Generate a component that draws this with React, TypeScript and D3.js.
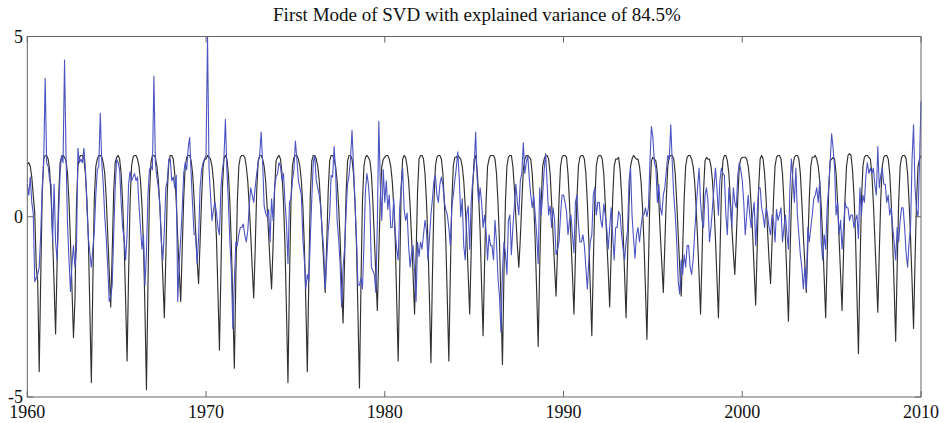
import React from 'react';
import * as d3 from 'd3';

const title = 'First Mode of SVD with explained variance of 84.5%';
const startYear = 1960;
const xTicks = [1960, 1970, 1980, 1990, 2000, 2010];
const yTicks = [-5, 0, 5];

// Black series: one row of 12 monthly values per year, 1960..2009
const blackRows: number[][] = [
  [1.45, 1.5, 1.4, 1.1, 0.6, 0.1, -1.4, -1.8, -4.3, -1.7, 0.6, 1.6],
  [1.7, 1.7, 1.6, 1.3, 0.5, -0.6, -1.9, -3.25, -1.3, 0.5, 1.5, 1.65],
  [1.7, 1.65, 1.55, 1.2, 0.4, -0.7, -2.0, -3.35, -2.3, 0.3, 1.4, 1.65],
  [1.7, 1.7, 1.6, 1.2, 0.5, -0.6, -2.6, -4.6, -1.8, 0.5, 1.4, 1.6],
  [1.7, 1.7, 1.65, 1.5, 1.2, 0.5, -0.5, -1.5, -2.5, -1.0, 0.7, 1.5],
  [1.65, 1.7, 1.6, 1.2, 0.4, -0.7, -2.3, -4.0, -1.6, 0.4, 1.4, 1.65],
  [1.7, 1.7, 1.6, 1.4, 1.0, 0.3, -0.8, -2.6, -4.8, -1.9, 0.6, 1.5],
  [1.7, 1.7, 1.65, 1.4, 1.0, 0.3, -0.6, -1.7, -2.8, -1.1, 0.7, 1.5],
  [1.7, 1.7, 1.6, 1.2, 0.4, -0.6, -1.5, -2.35, -0.9, 0.5, 1.4, 1.65],
  [1.7, 1.7, 1.55, 1.2, 0.5, -0.4, -1.2, -1.85, -0.7, 0.5, 1.4, 1.6],
  [1.6, 1.7, 1.65, 1.6, 1.4, 1.0, 0.3, -0.6, -2.1, -3.7, -1.5, 0.8],
  [1.6, 1.7, 1.6, 1.2, 0.4, -0.8, -2.4, -4.2, -1.7, 0.4, 1.4, 1.65],
  [1.7, 1.7, 1.65, 1.4, 1.0, 0.3, -0.5, -1.4, -2.25, -0.9, 0.7, 1.55],
  [1.7, 1.7, 1.6, 1.4, 1.0, 0.3, -0.5, -1.3, -2.0, -0.8, 0.7, 1.55],
  [1.65, 1.7, 1.6, 1.2, 0.4, -0.8, -2.6, -4.6, -1.8, 0.4, 1.4, 1.65],
  [1.7, 1.7, 1.6, 1.4, 1.0, 0.3, -0.8, -2.4, -4.3, -1.7, 0.6, 1.55],
  [1.7, 1.7, 1.6, 1.4, 1.0, 0.3, -0.5, -1.3, -2.1, -0.8, 0.7, 1.55],
  [1.7, 1.7, 1.6, 1.4, 1.0, 0.3, -0.6, -1.8, -2.95, -1.2, 0.6, 1.55],
  [1.7, 1.7, 1.6, 1.2, 0.4, -0.8, -2.7, -4.75, -1.9, 0.4, 1.4, 1.65],
  [1.7, 1.65, 1.55, 1.2, 0.4, -0.6, -1.6, -2.6, -1.0, 0.5, 1.4, 1.6],
  [1.65, 1.7, 1.7, 1.6, 1.4, 1.0, 0.3, -0.6, -2.3, -4.0, -1.6, 0.8],
  [1.6, 1.7, 1.65, 1.4, 1.0, 0.3, -0.6, -1.6, -2.7, -1.1, 0.7, 1.6],
  [1.7, 1.7, 1.6, 1.2, 0.4, -0.7, -2.3, -4.05, -1.6, 0.4, 1.4, 1.65],
  [1.7, 1.7, 1.6, 1.2, 0.4, -0.7, -2.3, -4.0, -1.6, 0.4, 1.4, 1.65],
  [1.65, 1.7, 1.65, 1.6, 1.4, 1.0, 0.3, -0.5, -1.6, -2.7, -1.0, 0.8],
  [1.6, 1.7, 1.3, 0.6, -0.4, -1.9, -3.3, -1.3, 0.4, 1.4, 1.6, 1.7],
  [1.7, 1.7, 1.6, 1.2, 0.4, -0.7, -2.3, -4.1, -1.6, 0.4, 1.4, 1.65],
  [1.7, 1.7, 1.4, 0.8, 0.0, -0.8, -1.4, -0.6, 0.4, 1.3, 1.6, 1.7],
  [1.7, 1.65, 1.6, 1.2, 0.4, -0.7, -2.1, -3.6, -1.4, 0.4, 1.4, 1.6],
  [1.7, 1.7, 1.6, 1.2, 0.4, -0.5, -1.4, -2.2, -0.9, 0.5, 1.4, 1.65],
  [1.7, 1.7, 1.65, 1.2, 0.4, -0.6, -1.6, -2.7, -1.1, 0.5, 1.4, 1.65],
  [1.7, 1.7, 1.6, 1.2, 0.4, -0.7, -2.0, -3.3, -1.3, 0.4, 1.4, 1.65],
  [1.7, 1.7, 1.6, 1.2, 0.4, -0.6, -1.5, -2.5, -1.0, 0.5, 1.4, 1.6],
  [1.6, 1.65, 1.3, 0.6, -0.4, -1.6, -2.8, -1.1, 0.4, 1.4, 1.6, 1.7],
  [1.65, 1.6, 1.6, 1.4, 1.0, 0.3, -0.7, -2.0, -3.4, -1.4, 0.6, 1.55],
  [1.65, 1.6, 1.55, 1.2, 0.4, -0.5, -1.3, -2.1, -0.8, 0.5, 1.4, 1.65],
  [1.7, 1.7, 1.6, 1.2, 0.4, -0.5, -1.4, -2.2, -0.9, 0.5, 1.4, 1.65],
  [1.7, 1.7, 1.6, 1.4, 1.0, 0.3, -0.6, -1.6, -2.7, -1.1, 0.7, 1.55],
  [1.65, 1.6, 1.6, 1.4, 1.0, 0.3, -0.6, -1.7, -2.8, -1.1, 0.7, 1.55],
  [1.7, 1.7, 1.55, 1.2, 0.5, -0.3, -1.0, -1.6, -0.6, 0.5, 1.4, 1.6],
  [1.65, 1.65, 1.65, 1.6, 1.4, 1.0, 0.3, -0.5, -1.5, -2.45, -0.9, 0.8],
  [1.6, 1.7, 1.6, 1.2, 0.5, -0.4, -1.2, -1.85, -0.7, 0.5, 1.4, 1.65],
  [1.7, 1.7, 1.6, 1.2, 0.4, -0.6, -1.7, -2.9, -1.2, 0.4, 1.4, 1.65],
  [1.7, 1.7, 1.6, 1.2, 0.4, -0.5, -1.3, -2.1, -0.8, 0.5, 1.4, 1.65],
  [1.65, 1.7, 1.6, 1.4, 1.0, 0.3, -0.6, -1.7, -2.8, -1.1, 0.7, 1.55],
  [1.6, 1.65, 1.6, 1.2, 0.4, -0.6, -1.6, -2.6, -1.0, 0.5, 1.4, 1.7],
  [1.75, 1.7, 1.3, 0.6, -0.5, -2.2, -3.8, -1.5, 0.4, 1.4, 1.65, 1.7],
  [1.7, 1.65, 1.6, 1.2, 0.4, -0.6, -1.6, -2.65, -1.0, 0.5, 1.4, 1.65],
  [1.7, 1.7, 1.6, 1.2, 0.4, -0.7, -2.0, -3.45, -1.4, 0.4, 1.4, 1.65],
  [1.7, 1.7, 1.6, 1.2, 0.4, -0.6, -1.8, -3.1, -1.2, 0.4, 1.4, 1.6],
];
const blackLast = 1.7; // Jan 2010

// Blue series: one row of 12 monthly values per year, 1960..2009
const blueRows: number[][] = [
  [0.9, 0.6, 1.1, 0.4, 0.1, -1.8, -1.7, -1.6, -1.4, -0.5, 0.8, 1.5],
  [3.84, 1.5, 1.4, 1.0, 0.9, -0.7, 0.9, -0.7, -1.2, 0.0, 1.2, 1.7],
  [1.5, 4.35, 1.7, -0.2, -1.2, -2.07, -1.3, -0.8, -1.4, -0.9, 1.9, 1.5],
  [1.6, 1.5, 1.9, 1.35, 0.3, -0.6, -1.0, -1.4, -0.9, -0.4, 0.6, 1.3],
  [1.4, 2.87, 1.5, 0.9, 0.0, -0.6, -1.4, -2.35, -2.2, -1.9, -0.5, 0.8],
  [1.6, 1.5, 1.3, 0.4, -0.3, -0.6, -1.2, -0.5, 0.9, 1.25, 1.0, 1.1],
  [1.2, 1.0, 1.1, 0.3, -0.3, -0.9, -0.5, -1.9, -1.0, 0.6, 1.3, 1.4],
  [1.3, 3.9, 1.5, 1.1, 0.8, 0.3, -0.7, -1.2, -0.4, 0.8, 1.0, 1.6],
  [1.6, 1.0, 1.1, 0.8, 1.15, -2.35, -1.3, -0.6, 0.2, 1.2, 1.5, 1.3],
  [1.9, 2.2, 1.2, 0.3, -0.5, -0.5, -1.3, -0.6, 0.8, 1.3, 1.5, 1.6],
  [1.7, 5.0, 1.35, 0.6, -0.1, 0.2, 0.4, 0.1, -0.3, -0.5, 0.8, 1.3],
  [1.6, 2.7, 1.3, 0.4, -0.7, -1.5, -3.1, -1.8, -0.7, -0.8, -0.5, -0.3],
  [-0.3, -0.2, -0.5, -0.7, -0.4, 0.3, 0.8, 0.6, 0.4, 0.8, 1.2, 1.5],
  [1.7, 2.35, 1.5, 0.3, 0.1, 0.0, 0.2, -0.7, 0.5, -0.1, 0.8, 1.1],
  [1.2, 1.5, 1.4, 1.0, 1.2, 0.4, -0.2, -1.3, 0.4, 0.5, 1.0, 1.3],
  [2.1, 1.6, 1.0, 0.8, 0.6, -0.6, -1.2, -2.0, -1.6, -1.8, -0.6, 0.5],
  [1.5, 1.7, 1.0, 0.8, 0.6, 0.25, -0.4, -0.9, -2.0, -1.2, -0.4, 0.05],
  [1.15, 1.1, 1.95, 1.25, -0.1, -0.6, -1.3, -2.5, -1.4, -0.9, 0.1, 0.9],
  [1.15, 1.6, 2.4, 1.4, 0.4, -0.6, -1.9, -1.9, -1.7, -2.0, -0.8, 0.7],
  [1.2, 0.9, 0.3, -1.4, -1.5, -1.6, -2.1, -0.2, 2.65, 0.9, -0.1, 1.3],
  [0.4, 1.0, 0.2, 0.6, -0.3, -0.3, 0.5, -0.4, -0.9, -1.2, 0.25, 0.8],
  [1.35, 0.2, -0.1, 0.1, -0.8, -1.4, -1.0, -0.8, -1.5, -2.35, -0.7, -1.1],
  [-0.7, -0.9, -0.5, -0.1, -0.4, -1.2, -0.6, 0.05, 0.5, 1.0, 1.15, 0.6],
  [0.4, 0.9, 1.1, 0.9, 0.4, 0.2, 0.05, -0.3, -0.8, 0.25, 0.6, 1.0],
  [1.35, 1.8, 1.07, 0.0, 0.5, -0.8, -1.2, 0.05, 0.3, -0.9, 0.4, 1.0],
  [1.35, 2.35, 1.07, 0.4, 0.8, 0.4, -0.3, 0.05, -0.4, -1.2, -0.5, -0.8],
  [-0.8, -1.2, -0.1, -0.7, -1.7, -2.2, -3.2, -1.5, -0.7, -1.0, -1.6, -0.1],
  [0.05, -1.05, -0.3, 0.3, 0.9, 0.4, 0.05, 1.0, 1.2, 2.05, 1.2, 1.5],
  [1.7, 1.07, 0.6, 0.25, 0.6, 0.05, -0.5, -1.3, 0.8, 0.05, 0.6, 1.3],
  [1.75, 0.9, 0.05, 0.3, -0.3, 0.25, -0.1, -1.05, -0.9, -0.7, 0.05, 0.6],
  [0.6, 0.4, 0.15, -0.5, -0.1, 0.05, -0.5, -1.0, 0.4, 0.6, -0.2, -0.7],
  [-0.7, -0.5, -0.8, -1.4, -2.0, -1.2, -0.7, -0.5, 0.6, 0.8, 0.05, 0.4],
  [0.4, -0.1, -0.3, 0.35, 0.05, -0.3, -0.9, -0.3, 0.25, -0.5, -1.2, -0.3],
  [-0.3, 0.15, 0.05, -0.5, -0.9, -1.2, -0.7, -0.4, 1.0, 1.35, 0.05, -0.6],
  [-1.15, -0.5, -0.3, -0.7, -0.3, 0.05, 0.05, 0.25, 0.0, 0.25, 1.5, 2.5],
  [2.2, 1.5, 1.35, 0.4, 0.9, 0.25, 0.05, 0.6, 0.8, 1.25, 1.7, 1.6],
  [2.55, 1.5, 0.6, 0.05, -0.7, -1.8, -2.15, -1.2, -1.6, -1.05, -1.4, -0.8],
  [-0.8, -1.4, -1.6, -1.2, -0.5, 0.2, 0.8, 1.35, 0.4, -0.1, -0.3, 0.6],
  [0.8, 0.4, -0.7, -0.3, 0.25, 0.8, 1.35, 0.8, 0.05, 1.0, 1.35, 1.2],
  [1.15, 0.05, -0.5, 0.8, 0.25, -0.3, 0.8, 0.4, 0.25, 1.15, 1.5, 1.3],
  [1.0, 0.4, -0.5, 0.05, 0.6, 0.05, -0.3, 0.05, 0.4, -0.8, 0.05, 0.8],
  [0.8, 0.25, 0.05, -0.3, 0.25, 0.05, -0.3, -0.5, 0.05, -0.1, -0.7, 0.2],
  [-0.1, 0.05, 0.25, -0.7, -0.3, 0.05, -0.5, -0.9, 0.8, 1.6, 1.0, 0.4],
  [1.35, 0.05, -0.5, -1.05, -1.4, -2.0, -1.4, -2.0, -0.3, -0.7, -0.3, 0.05],
  [0.5, 0.6, 0.8, 0.4, 1.0, -0.7, -1.2, -0.5, -0.9, 0.25, 0.8, 1.5],
  [2.3, 1.9, 1.35, 0.05, 0.4, -0.5, -0.1, -0.9, -0.3, 0.4, 0.25, 0.25],
  [-0.1, 0.05, 0.05, -0.3, -0.1, 0.05, -0.6, 0.8, 0.05, 0.6, 0.4, 1.15],
  [1.5, 1.2, 1.35, 1.2, 1.35, 0.9, 0.6, 1.95, 0.8, 1.15, 1.35, 0.9],
  [0.9, 0.4, 0.6, 0.05, 0.25, -0.3, -0.7, -1.2, -0.3, -0.7, -0.1, 0.25],
  [0.25, -0.3, -1.0, -1.4, -0.7, -0.3, 1.6, 2.55, 0.8, 0.2, 0.0, 1.5],
];
const blueLast = 3.2; // Jan 2010

type Pt = { t: number; v: number };
function toSeries(rows: number[][], last: number): Pt[] {
  const pts: Pt[] = [];
  rows.forEach((row, yi) => row.forEach((v, m) => pts.push({ t: startYear + yi + m / 12, v })));
  pts.push({ t: startYear + rows.length, v: last });
  return pts;
}

const W = 949;
const H = 423;
const L = 27.3;
const R = 921;
const T = 36.5;
const B = 397;

export default function App() {
  const x = d3.scaleLinear().domain([1960, 2010]).range([L, R]);
  const y = d3.scaleLinear().domain([-5, 5]).range([B, T]);
  const line = d3
    .line<Pt>()
    .x((d) => x(d.t))
    .y((d) => y(d.v));
  const blackPts = toSeries(blackRows, blackLast);
  const bluePts = toSeries(blueRows, blueLast);
  const font = "'Liberation Serif', 'Times New Roman', serif";
  const tick = 6;
  return (
    <svg
      width={W}
      height={H}
      style={{ position: 'absolute', left: 0, top: 0, background: '#fff', display: 'block' }}
    >
      <rect x={0} y={0} width={W} height={H} fill="#fff" />
      <text x={477} y={21} textAnchor="middle" fontFamily={font} fontSize={19} fill="#111">
        {title}
      </text>
      <path d={line(blackPts) || ''} fill="none" stroke="#303030" strokeWidth={1.15} strokeLinejoin="round" />
      <path d={line(bluePts) || ''} fill="none" stroke="#4c54c2" strokeWidth={1.1} strokeLinejoin="round" />
      <rect x={L} y={T} width={R - L} height={B - T} fill="none" stroke="#666" strokeWidth={1} />
      {xTicks.map((t) => (
        <g key={'x' + t}>
          <line x1={x(t)} x2={x(t)} y1={B} y2={B - tick} stroke="#666" />
          <line x1={x(t)} x2={x(t)} y1={T} y2={T + tick} stroke="#666" />
          <text x={x(t)} y={418} textAnchor="middle" fontFamily={font} fontSize={18} fill="#111">
            {t}
          </text>
        </g>
      ))}
      {yTicks.map((v) => (
        <g key={'y' + v}>
          <line x1={L} x2={L + tick} y1={y(v)} y2={y(v)} stroke="#666" />
          <line x1={R} x2={R - tick} y1={y(v)} y2={y(v)} stroke="#666" />
          <text
            x={23}
            y={y(v)}
            dy="0.35em"
            textAnchor="end"
            fontFamily={font}
            fontSize={18}
            fill="#111"
          >
            {v}
          </text>
        </g>
      ))}
    </svg>
  );
}
